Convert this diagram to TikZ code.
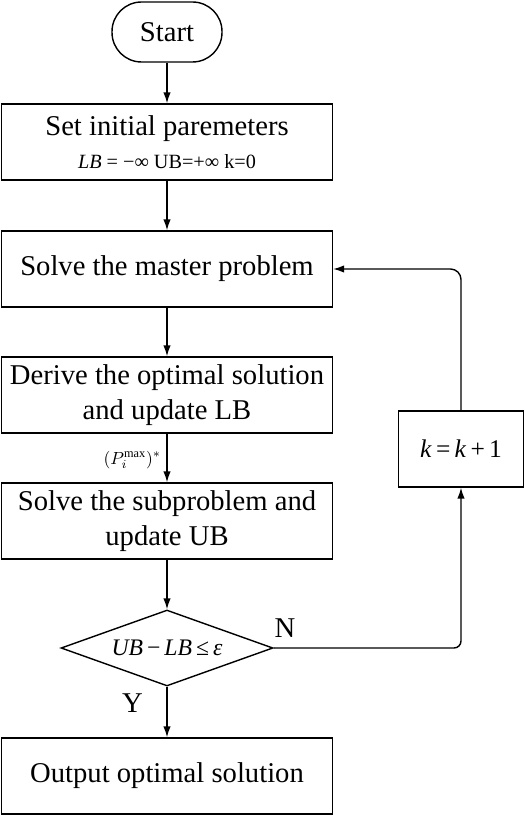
\documentclass[tikz,border=0pt]{standalone}
\usepackage{fontspec}
\setmainfont{Liberation Serif}
\usetikzlibrary{arrows.meta,shapes.geometric}

\begin{document}
\begin{tikzpicture}[
  x=0.02cm, y=-0.02cm,
  font=\fontsize{16.3}{20}\selectfont,
  line width=0.8pt,
  stepbox/.style={draw, minimum width=6.62cm, minimum height=1.52cm,
                  align=center, inner sep=2pt},
  startbox/.style={draw, rounded corners=0.59cm, minimum width=2.2cm, minimum height=1.2cm},
  decision/.style={draw, diamond, aspect=2.5, minimum width=4.24cm, minimum height=1.52cm,
                   inner sep=0pt, font=\fontsize{13.5}{15}\selectfont},
  loopbox/.style={draw, minimum width=2.5cm, minimum height=1.52cm,
                  font=\fontsize{14.5}{17}\selectfont},
  smalltxt/.style={font=\fontsize{10}{12}\selectfont, inner sep=1pt},
  flowarr/.style={-{Latex[length=2.2mm,width=1.5mm]}},
]
\useasboundingbox (0,0) rectangle (526,817);

%====================== MAIN COLUMN ======================
\node[startbox] (start) at (167,32) {Start};
\node[stepbox] (init) at (167,142) {Set initial paremeters\\[-1pt]
  {\fontsize{11.5}{14}\selectfont \textit{LB} = −∞ UB=+∞ k=0}};
\node[stepbox] (master) at (167,269) {Solve the master problem};
\node[stepbox] (derive) at (167,395) {Derive the optimal solution\\ and update LB};
\node[stepbox] (sub) at (167,521) {Solve the subproblem and\\ update UB};
\node[decision] (check) at (167,648) {\textit{UB}\,−\,\textit{LB}\,≤\,\textit{ε}};
\node[stepbox] (out) at (167,776) {Output optimal solution};

%====================== LOOP BACK ======================
\node[loopbox] (kinc) at (461,449) {\textit{k}\,=\,\textit{k}\,+\,1};

%====================== ARROWS ======================
\draw[flowarr] (start) -- (init);
\draw[flowarr] (init) -- (master);
\draw[flowarr] (master) -- (derive);
\draw[flowarr] (derive) -- node[left, smalltxt, xshift=-2pt, yshift=-1pt] (pstar) {$(P_i^{\max})^{*}$} (sub);
\draw[flowarr] (sub) -- (check);
\draw[flowarr] (check) -- node[left, xshift=-10pt, yshift=5pt] (yes) {Y} (out);
\draw[flowarr, rounded corners=4pt] (check.east) -| (kinc.south);
\draw[flowarr, rounded corners=6pt] (kinc.north) |- (master.east);
\node (no) at (285,628) {N};
\end{tikzpicture}
\end{document}
